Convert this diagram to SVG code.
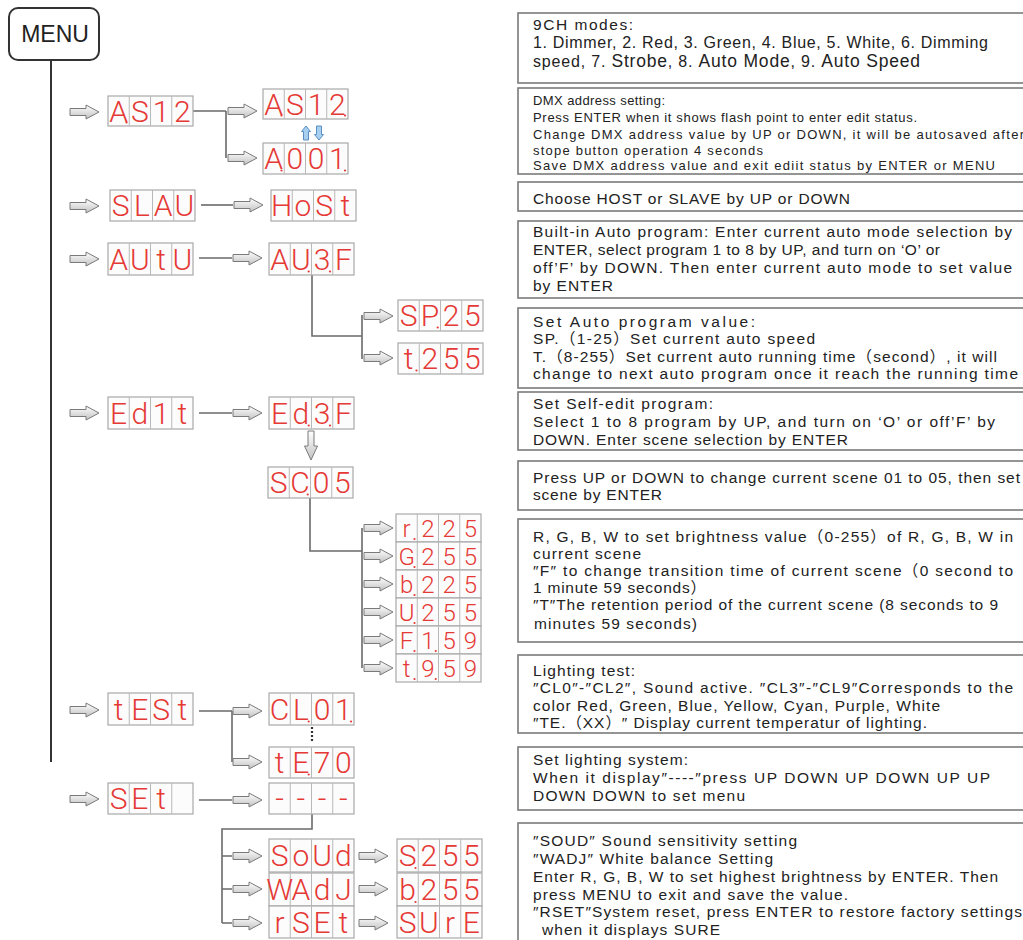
<svg xmlns="http://www.w3.org/2000/svg" width="1023" height="940" viewBox="0 0 1023 940">
<style>
.bg{fill:#ffffff}
.menu{fill:#ffffff;stroke:#333;stroke-width:2}
.menut{font-family:"Liberation Sans",Arial,sans-serif;font-size:23px;fill:#222}
.tb{fill:#ffffff;stroke:#7a7a7a;stroke-width:1.6}
.t{font-family:"Liberation Sans","Noto Sans CJK SC",sans-serif;font-size:15.5px;fill:#222}
.s{font-size:13px}
.dsp{fill:#fcfcfc;stroke:#a9a9a9;stroke-width:1.2}
.div{stroke:#b8b8b8;stroke-width:1;fill:none}
.seg{font-family:Roboto,"Liberation Sans",sans-serif;font-weight:300;font-size:30px;fill:#e53935;text-anchor:middle}
.sm{font-size:24px}
.dot{fill:#e53935}
.conn{stroke:#6a6a6a;stroke-width:1.6;fill:none}
.main{stroke:#333;stroke-width:2;fill:none}
.blue{fill:#a6cff0;stroke:#5b8fc2;stroke-width:1}
</style>
<defs>
<linearGradient id="ag" x1="0" y1="0" x2="0" y2="1">
<stop offset="0" stop-color="#ffffff"/>
<stop offset="1" stop-color="#c2c2c2"/>
</linearGradient>
<path id="ga" d="M0,-3.5H16V-7L29,0L16,7V3.5H0Z" fill="url(#ag)" stroke="#7a7a7a" stroke-width="1"/>
</defs>
<rect class="bg" width="1023" height="940"/>

<g id="menu">
<rect class="menu" x="9" y="8" width="90" height="52" rx="9"/>
<text class="menut" x="55" y="42" text-anchor="middle">MENU</text>
</g>

<g id="connectors">
<path class="main" d="M51,60V762"/>
<use href="#ga" x="70" y="112"/>
<use href="#ga" x="70" y="206"/>
<use href="#ga" x="70" y="259"/>
<use href="#ga" x="70" y="413"/>
<use href="#ga" x="70" y="710"/>
<use href="#ga" x="70" y="799"/>
<path class="conn" d="M193,111H226M226,111V158"/>
<use href="#ga" x="228" y="111"/>
<use href="#ga" x="228" y="158"/>
<path class="conn" d="M201,205H233"/>
<use href="#ga" x="234" y="205"/>
<path class="conn" d="M199,258H232"/>
<use href="#ga" x="233" y="258"/>
<path class="conn" d="M312,275V336H362M362,315V359"/>
<use href="#ga" x="364" y="316"/>
<use href="#ga" x="364" y="358"/>
<path class="conn" d="M199,413H232"/>
<use href="#ga" x="233" y="413"/>
<path d="M308,431H314V446H317.5L311,460L304.5,446H308Z" fill="url(#ag)" stroke="#7a7a7a" stroke-width="1"/>
<path class="conn" d="M310,498V551H362M362,528V668"/>
<use href="#ga" x="364" y="528"/>
<use href="#ga" x="364" y="556"/>
<use href="#ga" x="364" y="584"/>
<use href="#ga" x="364" y="612"/>
<use href="#ga" x="364" y="640"/>
<use href="#ga" x="364" y="668"/>
<path class="conn" d="M199,711H232M232,711V762"/>
<use href="#ga" x="233" y="711"/>
<use href="#ga" x="233" y="762"/>
<path d="M312,727V743" stroke="#333" stroke-width="2.2" stroke-dasharray="2,2" fill="none"/>
<path class="conn" d="M199,800H232"/>
<use href="#ga" x="233" y="800"/>
<path class="conn" d="M312,814V829H222V923M222,856H232M222,889H232M222,923H232"/>
<use href="#ga" x="233" y="856"/>
<use href="#ga" x="233" y="889"/>
<use href="#ga" x="233" y="923"/>
<use href="#ga" x="359" y="856"/>
<use href="#ga" x="359" y="889"/>
<use href="#ga" x="359" y="923"/>
<path class="blue" d="M306,126L310.5,131.5H308.5V140H303.5V131.5H301.5Z"/>
<path class="blue" d="M319,140L323.5,134.5H321.5V126H316.5V134.5H314.5Z"/>
</g>

<g id="n_as12a" transform="translate(108,96)"><rect class="dsp" width="85" height="30"/><path class="div" d="M21.25,0V30M42.5,0V30M63.75,0V30"/><text class="seg" x="10.6 31.9 53.1 74.4" y="25.5">AS12</text><circle class="dot" cx="18.5" cy="26.5" r="1.1"/></g>
<g id="n_as12b" transform="translate(263,89)"><rect class="dsp" width="85" height="30"/><path class="div" d="M21.25,0V30M42.5,0V30M63.75,0V30"/><text class="seg" x="10.6 31.9 53.1 74.4" y="25.5">AS12</text><circle class="dot" cx="18.5" cy="26.5" r="1.1"/><circle class="dot" cx="82" cy="26.5" r="1.1"/></g>
<g id="n_a001" transform="translate(263,143)"><rect class="dsp" width="85" height="31"/><path class="div" d="M21.25,0V31M42.5,0V31M63.75,0V31"/><text class="seg" x="10.6 31.9 53.1 74.4" y="26">A001</text><circle class="dot" cx="18.5" cy="27.5" r="1.1"/><circle class="dot" cx="82" cy="27.5" r="1.1"/></g>
<g id="n_slau" transform="translate(110,190)"><rect class="dsp" width="85" height="31"/><path class="div" d="M21.25,0V31M42.5,0V31M63.75,0V31"/><text class="seg" x="10.6 31.9 53.1 74.4" y="26">SLAU</text></g>
<g id="n_host" transform="translate(271,190)"><rect class="dsp" width="85" height="31"/><path class="div" d="M21.25,0V31M42.5,0V31M63.75,0V31"/><text class="seg" x="10.6 31.9 53.1 74.4" y="26">HoSt</text></g>
<g id="n_autu" transform="translate(108,243)"><rect class="dsp" width="85" height="32"/><path class="div" d="M21.25,0V32M42.5,0V32M63.75,0V32"/><text class="seg" x="10.6 31.9 53.1 74.4" y="26.5">AUtU</text></g>
<g id="n_au3f" transform="translate(269,243)"><rect class="dsp" width="85" height="32"/><path class="div" d="M21.25,0V32M42.5,0V32M63.75,0V32"/><text class="seg" x="10.6 31.9 53.1 74.4" y="26.5">AU3F</text><circle class="dot" cx="39.7" cy="28.5" r="1.1"/><circle class="dot" cx="61" cy="28.5" r="1.1"/></g>
<g id="n_sp25" transform="translate(398,300)"><rect class="dsp" width="85" height="31"/><path class="div" d="M21.25,0V31M42.5,0V31M63.75,0V31"/><text class="seg" x="10.6 31.9 53.1 74.4" y="26">SP25</text><circle class="dot" cx="39.7" cy="27.5" r="1.1"/></g>
<g id="n_t255" transform="translate(398,343)"><rect class="dsp" width="85" height="31"/><path class="div" d="M21.25,0V31M42.5,0V31M63.75,0V31"/><text class="seg" x="10.6 31.9 53.1 74.4" y="26">t255</text><circle class="dot" cx="18.5" cy="27.5" r="1.1"/></g>
<g id="n_edit" transform="translate(108,397)"><rect class="dsp" width="85" height="32"/><path class="div" d="M21.25,0V32M42.5,0V32M63.75,0V32"/><text class="seg" x="10.6 31.9 53.1 74.4" y="26.5">Ed1t</text></g>
<g id="n_ed3f" transform="translate(269,397)"><rect class="dsp" width="85" height="32"/><path class="div" d="M21.25,0V32M42.5,0V32M63.75,0V32"/><text class="seg" x="10.6 31.9 53.1 74.4" y="26.5">Ed3F</text><circle class="dot" cx="39.7" cy="28.5" r="1.1"/><circle class="dot" cx="61" cy="28.5" r="1.1"/></g>
<g id="n_sc05" transform="translate(268,467)"><rect class="dsp" width="85" height="31"/><path class="div" d="M21.25,0V31M42.5,0V31M63.75,0V31"/><text class="seg" x="10.6 31.9 53.1 74.4" y="26">SC05</text><circle class="dot" cx="39.7" cy="27.5" r="1.1"/></g>
<g id="n_r225" transform="translate(396,514)"><rect class="dsp" width="85" height="28"/><path class="div" d="M21.25,0V28M42.5,0V28M63.75,0V28"/><text class="seg sm" x="10.6 31.9 53.1 74.4" y="22.8">r225</text><circle class="dot" cx="18.5" cy="25" r="1.1"/></g>
<g id="n_g255" transform="translate(396,542)"><rect class="dsp" width="85" height="28"/><path class="div" d="M21.25,0V28M42.5,0V28M63.75,0V28"/><text class="seg sm" x="10.6 31.9 53.1 74.4" y="22.8">G255</text><circle class="dot" cx="18.5" cy="25" r="1.1"/></g>
<g id="n_b225" transform="translate(396,570)"><rect class="dsp" width="85" height="28"/><path class="div" d="M21.25,0V28M42.5,0V28M63.75,0V28"/><text class="seg sm" x="10.6 31.9 53.1 74.4" y="22.8">b225</text><circle class="dot" cx="18.5" cy="25" r="1.1"/></g>
<g id="n_u255" transform="translate(396,598)"><rect class="dsp" width="85" height="28"/><path class="div" d="M21.25,0V28M42.5,0V28M63.75,0V28"/><text class="seg sm" x="10.6 31.9 53.1 74.4" y="22.8">U255</text><circle class="dot" cx="18.5" cy="25" r="1.1"/></g>
<g id="n_f159" transform="translate(396,626)"><rect class="dsp" width="85" height="28"/><path class="div" d="M21.25,0V28M42.5,0V28M63.75,0V28"/><text class="seg sm" x="10.6 31.9 53.1 74.4" y="22.8">F159</text><circle class="dot" cx="18.5" cy="25" r="1.1"/><circle class="dot" cx="39.7" cy="25" r="1.1"/></g>
<g id="n_t959" transform="translate(396,654)"><rect class="dsp" width="85" height="28"/><path class="div" d="M21.25,0V28M42.5,0V28M63.75,0V28"/><text class="seg sm" x="10.6 31.9 53.1 74.4" y="22.8">t959</text><circle class="dot" cx="18.5" cy="25" r="1.1"/><circle class="dot" cx="39.7" cy="25" r="1.1"/></g>
<g id="n_test" transform="translate(108,693)"><rect class="dsp" width="85" height="32"/><path class="div" d="M21.25,0V32M42.5,0V32M63.75,0V32"/><text class="seg" x="10.6 31.9 53.1 74.4" y="26.5">tESt</text></g>
<g id="n_cl01" transform="translate(269,693)"><rect class="dsp" width="85" height="32"/><path class="div" d="M21.25,0V32M42.5,0V32M63.75,0V32"/><text class="seg" x="10.6 31.9 53.1 74.4" y="26.5">CL01</text><circle class="dot" cx="39.7" cy="28.5" r="1.1"/><circle class="dot" cx="82" cy="28.5" r="1.1"/></g>
<g id="n_te70" transform="translate(269,747)"><rect class="dsp" width="85" height="31"/><path class="div" d="M21.25,0V31M42.5,0V31M63.75,0V31"/><text class="seg" x="10.6 31.9 53.1 74.4" y="26">tE70</text><circle class="dot" cx="39.7" cy="27.5" r="1.1"/></g>
<g id="n_set" transform="translate(108,783)"><rect class="dsp" width="85" height="31"/><path class="div" d="M21.25,0V31M42.5,0V31M63.75,0V31"/><text class="seg" x="10.6 31.9 53.1" y="26">SEt</text></g>
<g id="n_dash" transform="translate(269,783)"><rect class="dsp" width="85" height="31"/><path class="div" d="M21.25,0V31M42.5,0V31M63.75,0V31"/><text class="seg" x="10.6 31.9 53.1 74.4" y="26">----</text></g>
<g id="n_soud" transform="translate(269,839)"><rect class="dsp" width="85" height="33"/><path class="div" d="M21.25,0V33M42.5,0V33M63.75,0V33"/><text class="seg" x="10.6 31.9 53.1 74.4" y="27">SoUd</text></g>
<g id="n_wadj" transform="translate(269,873)"><rect class="dsp" width="85" height="33"/><path class="div" d="M21.25,0V33M42.5,0V33M63.75,0V33"/><text class="seg" x="10.6 31.9 53.1 74.4" y="27">WAdJ</text></g>
<g id="n_rset" transform="translate(269,906)"><rect class="dsp" width="85" height="32"/><path class="div" d="M21.25,0V32M42.5,0V32M63.75,0V32"/><text class="seg" x="10.6 31.9 53.1 74.4" y="26.5">rSEt</text></g>
<g id="n_s255" transform="translate(397,839)"><rect class="dsp" width="85" height="33"/><path class="div" d="M21.25,0V33M42.5,0V33M63.75,0V33"/><text class="seg" x="10.6 31.9 53.1 74.4" y="27">S255</text><circle class="dot" cx="18.5" cy="29" r="1.1"/></g>
<g id="n_b255" transform="translate(397,873)"><rect class="dsp" width="85" height="33"/><path class="div" d="M21.25,0V33M42.5,0V33M63.75,0V33"/><text class="seg" x="10.6 31.9 53.1 74.4" y="27">b255</text><circle class="dot" cx="18.5" cy="29" r="1.1"/></g>
<g id="n_sure" transform="translate(397,906)"><rect class="dsp" width="85" height="32"/><path class="div" d="M21.25,0V32M42.5,0V32M63.75,0V32"/><text class="seg" x="10.6 31.9 53.1 74.4" y="26.5">SUrE</text></g>

<g id="box1">
<rect class="tb" x="518" y="13" width="506" height="70"/>
<text class="t" x="533" y="29.5" textLength="100">9CH modes:</text>
<text class="t" x="533" y="47.5" style="font-size:16px" textLength="455">1. Dimmer, 2. Red, 3. Green, 4. Blue, 5. White, 6. Dimming</text>
<text class="t" x="533" y="67" style="font-size:16px" textLength="387">speed, 7. <tspan style="font-size:17.5px">Strobe</tspan>, 8. <tspan style="font-size:17.5px">Auto Mode</tspan>, 9. <tspan style="font-size:17.5px">Auto Speed</tspan></text>
</g>
<g id="box2">
<rect class="tb" x="518" y="88" width="506" height="86"/>
<text class="t s" x="533" y="105" textLength="132">DMX address setting:</text>
<text class="t s" x="533" y="122" textLength="384">Press ENTER when it shows flash point to enter edit status.</text>
<text class="t s" x="533" y="138.5" textLength="491">Change DMX address value by UP or DOWN, it will be autosaved after</text>
<text class="t s" x="533" y="154.5" textLength="230">stope button operation 4 seconds</text>
<text class="t s" x="533" y="170" textLength="462">Save DMX address value and exit ediit status by ENTER or MENU</text>
</g>
<g id="box3">
<rect class="tb" x="518" y="182" width="506" height="29"/>
<text class="t" x="533" y="203.5" textLength="317">Choose HOST or SLAVE by UP or DOWN</text>
</g>
<g id="box4">
<rect class="tb" x="518" y="221" width="506" height="77"/>
<text class="t" x="533" y="236.5" textLength="479">Built-in Auto program: Enter current auto mode selection by</text>
<text class="t" x="533" y="254.5" textLength="407">ENTER, select program 1 to 8 by UP,  and turn on ‘O’ or</text>
<text class="t" x="533" y="272.5" textLength="479">off’F’ by DOWN. Then enter current auto mode to set value</text>
<text class="t" x="533" y="290.5" textLength="80">by ENTER</text>
</g>
<g id="box5">
<rect class="tb" x="518" y="308" width="506" height="80"/>
<text class="t" x="533" y="326.5" textLength="222">Set Auto program value:</text>
<text class="t" x="533" y="344" textLength="282">SP.（1-25）Set current auto speed</text>
<text class="t" x="533" y="361.5" textLength="464">T.（8-255）Set current auto running time（second）, it will</text>
<text class="t" x="533" y="379" textLength="485">change to next auto program once it reach the running time</text>
</g>
<g id="box6">
<rect class="tb" x="518" y="392" width="506" height="58"/>
<text class="t" x="533" y="408.5" textLength="180">Set Self-edit program:</text>
<text class="t" x="533" y="427" textLength="462">Select 1 to 8 program by UP, and turn on ‘O’ or off’F’ by</text>
<text class="t" x="533" y="445" textLength="315">DOWN. Enter scene selection by ENTER</text>
</g>
<g id="box7">
<rect class="tb" x="518" y="461" width="506" height="49"/>
<text class="t" x="533" y="482.5" textLength="487">Press UP or DOWN to change current scene 01 to 05, then set</text>
<text class="t" x="533" y="500" textLength="129">scene by ENTER</text>
</g>
<g id="box8">
<rect class="tb" x="518" y="519" width="506" height="123"/>
<text class="t" x="533" y="541.5" textLength="480">R, G, B, W to set brightness value（0-255）of R, G, B, W in</text>
<text class="t" x="533" y="558.5" textLength="108">current scene</text>
<text class="t" x="533" y="576" textLength="480">″F″ to change transition time of current scene（0 second to</text>
<text class="t" x="533" y="592.5" textLength="173">1 minute 59 seconds）</text>
<text class="t" x="533" y="610" textLength="465">″T″The retention period of the current scene (8 seconds to 9</text>
<text class="t" x="534" y="628.5" textLength="163">minutes 59 seconds)</text>
</g>
<g id="box9">
<rect class="tb" x="518" y="655" width="506" height="78"/>
<text class="t" x="533" y="675.5" textLength="102">Lighting test:</text>
<text class="t" x="533" y="693" textLength="480">″CL0″-″CL2″, Sound active. ″CL3″-″CL9″Corresponds to the</text>
<text class="t" x="533" y="710.5" textLength="407">color Red,  Green, Blue, Yellow, Cyan, Purple,  White</text>
<text class="t" x="533" y="728" textLength="394">″TE.（XX）″ Display current temperatur of lighting.</text>
</g>
<g id="box10">
<rect class="tb" x="518" y="747" width="506" height="63"/>
<text class="t" x="533" y="765" textLength="155">Set lighting system:</text>
<text class="t" x="533" y="782.5" textLength="457">When it display″----″press UP DOWN UP DOWN UP UP</text>
<text class="t" x="533" y="800.5" textLength="212">DOWN DOWN to set menu</text>
</g>
<g id="box11">
<rect class="tb" x="518" y="823" width="506" height="130"/>
<text class="t" x="533" y="845.5" textLength="264">″SOUD″ Sound sensitivity setting</text>
<text class="t" x="533" y="863.5" textLength="240">″WADJ″  White balance Setting</text>
<text class="t" x="533" y="881.5" textLength="465">Enter R, G, B, W to set highest brightness by ENTER. Then</text>
<text class="t" x="533" y="899.5" textLength="315">press MENU to exit and save the value.</text>
<text class="t" x="533" y="917" textLength="489">″RSET″System reset,  press ENTER to restore factory settings</text>
<text class="t" x="542" y="934.5" textLength="178">when it displays SURE</text>
</g>
</svg>
